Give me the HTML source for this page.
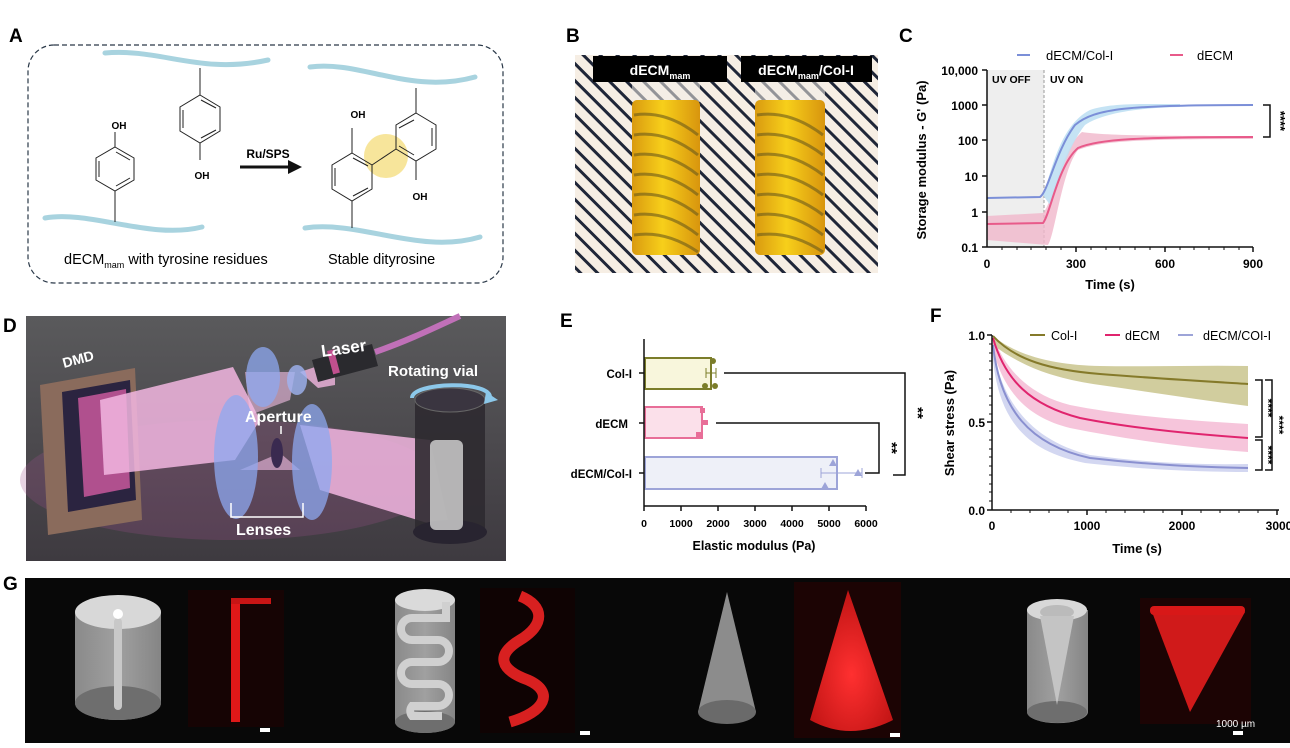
<!DOCTYPE html>
<html><head><meta charset="utf-8"><style>
html,body{margin:0;padding:0;background:#fff;width:1290px;height:748px;overflow:hidden}
svg{display:block;font-family:"Liberation Sans",Arial,sans-serif}
</style></head><body>
<svg width="1290" height="748" viewBox="0 0 1290 748" xmlns="http://www.w3.org/2000/svg">
<defs>
<pattern id="stripes" width="12" height="12" patternUnits="userSpaceOnUse" patternTransform="rotate(-45)">
<rect width="12" height="12" fill="#f6eee4"/><rect width="3" height="12" fill="#1f2638"/>
</pattern>
<linearGradient id="yel" x1="0" x2="1"><stop offset="0" stop-color="#d99a10"/><stop offset="0.45" stop-color="#f7cf1a"/><stop offset="1" stop-color="#d8950e"/></linearGradient>
<linearGradient id="dbg" x1="0" y1="0" x2="0" y2="1"><stop offset="0" stop-color="#5a5a5c"/><stop offset="1" stop-color="#3e3a40"/></linearGradient>
<linearGradient id="cylg" x1="0" x2="1"><stop offset="0" stop-color="#8a8a8a"/><stop offset="0.5" stop-color="#a0a0a0"/><stop offset="1" stop-color="#858585"/></linearGradient>
<radialGradient id="redg" cx="0.5" cy="0.6" r="0.6"><stop offset="0" stop-color="#ff3030"/><stop offset="1" stop-color="#c01414"/></radialGradient>
</defs>

<!-- ===== A ===== -->
<text x="9" y="42" font-size="19" font-weight="bold">A</text>
<rect x="28" y="45" width="475" height="238" rx="26" fill="none" stroke="#2a3848" stroke-width="1.2" stroke-dasharray="5,3"/>
<g fill="none" stroke="#a8d3df" stroke-width="5" stroke-linecap="round">
<path d="M105,53 C160,48 200,75 268,60"/>
<path d="M45,218 C90,210 150,240 202,227"/>
<path d="M310,67 C360,60 410,95 475,77"/>
<path d="M305,228 C360,220 420,255 480,237"/>
</g>
<g fill="none" stroke="#222" stroke-width="1">
<polygon points="115,147 134,158 134,180 115,191 96,180 96,158"/>
<line x1="99" y1="161" x2="99" y2="177"/><line x1="116" y1="152" x2="130" y2="160"/><line x1="116" y1="186" x2="130" y2="178"/>
<line x1="115" y1="147" x2="115" y2="132"/><line x1="115" y1="191" x2="115" y2="222"/>
<polygon points="200,95 220,107 220,131 200,143 180,131 180,107"/>
<line x1="183" y1="110" x2="183" y2="128"/><line x1="201" y1="100" x2="216" y2="108"/><line x1="201" y1="138" x2="216" y2="130"/>
<line x1="200" y1="95" x2="200" y2="68"/><line x1="200" y1="143" x2="200" y2="160"/>
</g>
<text x="119" y="129" font-size="10" font-weight="bold" text-anchor="middle">OH</text>
<text x="202" y="179" font-size="10" font-weight="bold" text-anchor="middle">OH</text>
<path d="M240,167 L290,167" stroke="#111" stroke-width="3"/><polygon points="288,160 302,167 288,174" fill="#111"/>
<text x="268" y="158" font-size="12" font-weight="bold" text-anchor="middle">Ru/SPS</text>
<circle cx="386" cy="156" r="22" fill="#f6e08a" opacity="0.85"/>
<g fill="none" stroke="#222" stroke-width="1">
<polygon points="352,153 372,165 372,189 352,201 332,189 332,165"/>
<line x1="335" y1="168" x2="335" y2="186"/><line x1="353" y1="158" x2="368" y2="166"/><line x1="353" y1="196" x2="368" y2="188"/>
<polygon points="416,113 436,125 436,149 416,161 396,149 396,125"/>
<line x1="432" y1="128" x2="432" y2="146"/><line x1="399" y1="128" x2="414" y2="120"/><line x1="399" y1="146" x2="414" y2="155"/>
<line x1="372" y1="165" x2="396" y2="149"/>
<line x1="352" y1="153" x2="352" y2="128"/><line x1="352" y1="201" x2="352" y2="228"/>
<line x1="416" y1="113" x2="416" y2="88"/><line x1="416" y1="161" x2="416" y2="180"/>
</g>
<text x="358" y="118" font-size="10" font-weight="bold" text-anchor="middle">OH</text>
<text x="420" y="200" font-size="10" font-weight="bold" text-anchor="middle">OH</text>
<text x="64" y="264" font-size="14.5">dECM<tspan font-size="9" dy="4">mam</tspan><tspan dy="-4"> with tyrosine residues</tspan></text>
<text x="328" y="264" font-size="14.5">Stable dityrosine</text>

<!-- ===== B ===== -->
<text x="566" y="42" font-size="19" font-weight="bold">B</text>
<rect x="575" y="55" width="303" height="218" fill="url(#stripes)"/>
<g>
<rect x="632" y="72" width="68" height="30" fill="#f2efe8" opacity="0.55"/>
<rect x="632" y="100" width="68" height="155" rx="5" fill="url(#yel)"/>
<rect x="755" y="72" width="70" height="30" fill="#f2efe8" opacity="0.55"/>
<rect x="755" y="100" width="70" height="155" rx="5" fill="url(#yel)"/>
<g stroke="#6b5a1a" stroke-width="3" fill="none" opacity="0.6">
<path d="M634,115 Q666,110 698,135 M634,135 Q666,130 698,155 M634,155 Q666,150 698,175 M634,175 Q666,170 698,195 M634,195 Q666,190 698,215 M634,215 Q666,210 698,235 M634,235 Q666,230 698,252"/>
<path d="M757,115 Q790,110 823,135 M757,135 Q790,130 823,155 M757,155 Q790,150 823,175 M757,175 Q790,170 823,195 M757,195 Q790,190 823,215 M757,215 Q790,210 823,235 M757,235 Q790,230 823,252"/>
</g>
</g>
<rect x="593" y="56" width="134" height="26" fill="#000"/>
<text x="660" y="75" font-size="14" font-weight="bold" fill="#fff" text-anchor="middle">dECM<tspan font-size="9" dy="4">mam</tspan></text>
<rect x="741" y="56" width="131" height="26" fill="#000"/>
<text x="806" y="75" font-size="14" font-weight="bold" fill="#fff" text-anchor="middle">dECM<tspan font-size="9" dy="4">mam</tspan><tspan dy="-4">/Col-I</tspan></text>

<!-- ===== C ===== -->
<text x="899" y="42" font-size="19" font-weight="bold">C</text>
<line x1="1017" y1="55" x2="1030" y2="55" stroke="#7b8fd8" stroke-width="2"/>
<text x="1046" y="60" font-size="13">dECM/Col-I</text>
<line x1="1170" y1="55" x2="1183" y2="55" stroke="#e85a8a" stroke-width="2"/>
<text x="1197" y="60" font-size="13">dECM</text>
<rect x="987" y="70" width="57" height="177" fill="#eeeeee"/>
<line x1="1044" y1="70" x2="1044" y2="247" stroke="#999" stroke-dasharray="3,2"/>
<text x="992" y="83" font-size="10.5" font-weight="bold">UV OFF</text>
<text x="1050" y="83" font-size="10.5" font-weight="bold">UV ON</text>
<path d="M987,216 L1043,213 C1052,205 1062,148 1082,132 C1100,135 1140,136 1253,136 L1253,139 C1140,139 1100,141 1078,150 C1062,170 1055,235 1048,245 L987,240 Z" fill="#f0b7cb" opacity="0.8"/>
<path d="M1043,195 C1052,170 1060,125 1090,110 C1110,103 1140,104 1180,104 L1180,107 C1130,108 1100,115 1085,125 C1065,150 1055,195 1050,205 Z" fill="#bfe0f3" opacity="0.9"/>
<path d="M987,198 L1040,197 C1048,192 1056,150 1075,125 C1095,108 1130,105 1253,105" fill="none" stroke="#7b8fd8" stroke-width="2"/>
<path d="M987,224 L1043,223 C1050,215 1058,165 1078,148 C1098,139 1140,137 1253,137" fill="none" stroke="#e85a8a" stroke-width="2"/>
<g stroke="#111" stroke-width="1.5" fill="none">
<line x1="987" y1="70" x2="987" y2="247"/><line x1="987" y1="247" x2="1253" y2="247"/>
<path d="M982,70H987M982,105H987M982,140H987M982,176H987M982,212H987M982,247H987"/>
<path d="M1076,247v5M1165,247v5M1253,247v5"/>
<path d="M1263,105h7v32h-7"/>
</g>
<g stroke="#111" stroke-width="1"><path d="M1002,247v3M1017,247v3M1031,247v3M1046,247v3M1061,247v3M1091,247v3M1106,247v3M1120,247v3M1135,247v3M1150,247v3M1180,247v3M1194,247v3M1209,247v3M1224,247v3M1239,247v3"/></g>
<g font-size="12" font-weight="bold" text-anchor="end">
<text x="978" y="75">10,000</text><text x="978" y="110">1000</text><text x="978" y="145">100</text><text x="978" y="181">10</text><text x="978" y="217">1</text><text x="978" y="252">0.1</text>
</g>
<g font-size="12" font-weight="bold" text-anchor="middle"><text x="987" y="268">0</text><text x="1076" y="268">300</text><text x="1165" y="268">600</text><text x="1253" y="268">900</text></g>
<text x="1110" y="289" font-size="13" font-weight="bold" text-anchor="middle">Time (s)</text>
<text transform="translate(926,160) rotate(-90)" font-size="13" font-weight="bold" text-anchor="middle">Storage modulus - G' (Pa)</text>
<text transform="translate(1276,121) rotate(90)" font-size="13" font-weight="bold" text-anchor="middle">****</text>

<!-- ===== D ===== -->
<text x="3" y="332" font-size="19" font-weight="bold">D</text>
<rect x="26" y="316" width="480" height="245" fill="url(#dbg)"/>
<ellipse cx="230" cy="480" rx="210" ry="60" fill="#a0508a" opacity="0.25"/>
<polygon points="40,385 135,368 142,520 48,535" fill="#8a6b5c"/>
<polygon points="62,392 130,380 136,500 68,512" fill="#2b2440"/>
<polygon points="78,398 126,389 130,488 84,497" fill="#b0508e"/>
<polygon points="100,400 233,367 260,420 235,460 104,475" fill="#f2b6e0" opacity="0.85"/>
<polygon points="245,372 295,372 290,400 250,415" fill="#f4c0e6" opacity="0.6"/>
<polygon points="300,372 318,366 335,362 335,385 318,388" fill="#f2b6e0" opacity="0.8"/>
<polygon points="300,425 430,440 450,530 320,490" fill="#f2b6e0" opacity="0.85"/>
<polygon points="240,470 280,453 300,470" fill="#f4c0e6" opacity="0.6"/>
<ellipse cx="263" cy="377" rx="17" ry="30" fill="#8ea8f0" opacity="0.75"/>
<ellipse cx="297" cy="380" rx="10" ry="15" fill="#9fb4f2" opacity="0.8"/>
<ellipse cx="236" cy="457" rx="22" ry="62" fill="#8ea8f0" opacity="0.75"/>
<ellipse cx="312" cy="462" rx="20" ry="58" fill="#8ea8f0" opacity="0.75"/>
<ellipse cx="277" cy="453" rx="6" ry="15" fill="#3a2a50"/>
<polygon points="312,360 372,344 378,366 318,382" fill="#2a2a2e"/>
<rect x="330" y="350" width="7" height="24" fill="#c0508e" transform="rotate(-15 333 362)"/>
<path d="M375,352 C410,340 440,325 460,316" stroke="#c070b8" stroke-width="6" fill="none"/>
<rect x="415" y="395" width="70" height="140" rx="8" fill="#2d2a30" opacity="0.9"/>
<ellipse cx="450" cy="400" rx="35" ry="12" fill="#3a3540" stroke="#666"/>
<ellipse cx="450" cy="532" rx="37" ry="12" fill="#282430"/>
<rect x="430" y="440" width="33" height="90" rx="6" fill="#ccc" opacity="0.85"/>
<path d="M412,398 C412,382 492,380 490,398" stroke="#8cc8ea" stroke-width="4" fill="none"/>
<polygon points="486,392 498,400 484,404" fill="#8cc8ea"/>
<g fill="#fff" font-weight="bold">
<text x="64" y="368" font-size="14" transform="rotate(-15 64 368)">DMD</text>
<text x="322" y="357" font-size="17" transform="rotate(-8 322 357)">Laser</text>
<text x="388" y="376" font-size="15">Rotating vial</text>
<text x="245" y="422" font-size="16">Aperture</text>
<text x="236" y="535" font-size="16">Lenses</text>
</g>
<path d="M231,503 v14 h72 v-14" stroke="#fff" stroke-width="1.5" fill="none"/>
<line x1="281" y1="426" x2="281" y2="434" stroke="#fff" stroke-width="1.5"/>

<!-- ===== E ===== -->
<text x="560" y="327" font-size="19" font-weight="bold">E</text>
<rect x="645" y="358" width="66" height="31" fill="#f8f6dc" stroke="#7b7d2a" stroke-width="2"/>
<rect x="645" y="407" width="57" height="31" fill="#fbe0ea" stroke="#e86e98" stroke-width="2"/>
<rect x="645" y="457" width="192" height="32" fill="#eef0f8" stroke="#9da4d8" stroke-width="2"/>
<g fill="#7b7d2a"><circle cx="713" cy="361" r="3"/><circle cx="705" cy="386" r="3"/><circle cx="715" cy="386" r="3"/></g>
<path d="M706,373H716M706,368v10M716,368v10" stroke="#7b7d2a"/>
<g fill="#e86e98"><rect x="700" y="408" width="5" height="5"/><rect x="703" y="420" width="5" height="5"/><rect x="696" y="432" width="5" height="5"/></g>
<g fill="#9da4d8"><polygon points="833,459 837,466 829,466"/><polygon points="858,469 862,476 854,476"/><polygon points="825,482 829,489 821,489"/></g>
<path d="M821,473H862M821,468v10M862,468v10" stroke="#9da4d8"/>
<g stroke="#111" stroke-width="1.5" fill="none">
<line x1="644" y1="339" x2="644" y2="506"/><line x1="644" y1="506" x2="866" y2="506"/>
<path d="M639,373h5M639,423h5M639,473h5"/>
<path d="M644,506v5M681,506v5M718,506v5M755,506v5M792,506v5M829,506v5M866,506v5"/>
<path d="M724,373H905V475H893"/>
<path d="M716,423H879V473H865"/>
</g>
<g font-size="11.5" font-weight="bold" text-anchor="end"><text x="632" y="378">Col-I</text><text x="628" y="428">dECM</text><text x="632" y="478">dECM/Col-I</text></g>
<g font-size="10.5" font-weight="bold" text-anchor="middle"><text x="644" y="527">0</text><text x="681" y="527">1000</text><text x="718" y="527">2000</text><text x="755" y="527">3000</text><text x="792" y="527">4000</text><text x="829" y="527">5000</text><text x="866" y="527">6000</text></g>
<text x="754" y="550" font-size="12.5" font-weight="bold" text-anchor="middle">Elastic modulus (Pa)</text>
<text transform="translate(913,413) rotate(90)" font-size="15" font-weight="bold" text-anchor="middle">**</text>
<text transform="translate(887,448) rotate(90)" font-size="15" font-weight="bold" text-anchor="middle">**</text>

<!-- ===== F ===== -->
<text x="930" y="322" font-size="19" font-weight="bold">F</text>
<line x1="1030" y1="335" x2="1045" y2="335" stroke="#857a2a" stroke-width="2"/><text x="1051" y="340" font-size="12.5">Col-I</text>
<line x1="1105" y1="335" x2="1120" y2="335" stroke="#e0246e" stroke-width="2"/><text x="1125" y="340" font-size="12.5">dECM</text>
<line x1="1178" y1="335" x2="1193" y2="335" stroke="#9da4d8" stroke-width="2"/><text x="1203" y="340" font-size="12.5">dECM/COI-I</text>
<path d="M993,336 C1020,358 1060,365 1100,366 C1150,367 1200,365 1248,366 L1248,406 C1200,400 1150,392 1100,385 C1050,378 1020,365 993,345 Z" fill="#b3ab5e" opacity="0.6"/>
<path d="M993,336 C1005,370 1030,395 1070,405 C1120,415 1180,420 1248,424 L1248,452 C1190,448 1130,440 1070,428 C1030,418 1005,395 993,350 Z" fill="#f3b2cf" opacity="0.75"/>
<path d="M993,345 C1000,400 1030,440 1090,455 C1150,463 1200,465 1248,464 L1248,472 C1200,472 1150,470 1085,463 C1030,452 1000,425 993,360 Z" fill="#c8cdee" opacity="0.8"/>
<path d="M993,336 C1015,360 1050,370 1100,374 C1150,378 1200,381 1248,384" fill="none" stroke="#857a2a" stroke-width="2"/>
<path d="M993,338 C1005,380 1030,405 1080,418 C1130,428 1190,434 1248,438" fill="none" stroke="#e0246e" stroke-width="2"/>
<path d="M993,345 C1000,410 1030,445 1090,458 C1150,465 1200,467 1248,468" fill="none" stroke="#8a90d0" stroke-width="2"/>
<g stroke="#111" stroke-width="1.5" fill="none">
<line x1="992" y1="335" x2="992" y2="510"/><line x1="992" y1="510" x2="1279" y2="510"/>
<path d="M987,335h5M987,422h5M987,510h5M1087,510v5M1182,510v5M1277,510v5"/>
<path d="M1255,380h7v57h-7M1255,440h7v30h-7M1265,380h7v90h-7"/>
</g>
<g stroke="#111" stroke-width="1"><path d="M992,344h-3M992,353h-3M992,361h-3M992,370h-3M992,379h-3M992,388h-3M992,396h-3M992,405h-3M992,414h-3M992,431h-3M992,440h-3M992,449h-3M992,457h-3M992,466h-3M992,475h-3M992,484h-3M992,492h-3M992,501h-3"/>
<path d="M1011,510v3M1030,510v3M1049,510v3M1068,510v3M1106,510v3M1125,510v3M1144,510v3M1163,510v3M1201,510v3M1220,510v3M1239,510v3M1258,510v3"/></g>
<g font-size="12" font-weight="bold" text-anchor="end"><text x="985" y="340">1.0</text><text x="985" y="427">0.5</text><text x="985" y="515">0.0</text></g>
<g font-size="12" font-weight="bold" text-anchor="middle"><text x="992" y="530">0</text><text x="1087" y="530">1000</text><text x="1182" y="530">2000</text><text x="1279" y="530">3000</text></g>
<text x="1137" y="553" font-size="13" font-weight="bold" text-anchor="middle">Time (s)</text>
<text transform="translate(954,423) rotate(-90)" font-size="13" font-weight="bold" text-anchor="middle">Shear stress (Pa)</text>
<text transform="translate(1264,408) rotate(90)" font-size="12" font-weight="bold" text-anchor="middle">****</text>
<text transform="translate(1264,455) rotate(90)" font-size="12" font-weight="bold" text-anchor="middle">****</text>
<text transform="translate(1275,425) rotate(90)" font-size="12" font-weight="bold" text-anchor="middle">****</text>

<!-- ===== G ===== -->
<text x="3" y="590" font-size="19" font-weight="bold">G</text>
<rect x="25" y="578" width="1265" height="165" fill="#080808"/>
<path d="M75,612 V703 A43,17 0 0 0 161,703 V612 Z" fill="url(#cylg)"/>
<ellipse cx="118" cy="703" rx="43" ry="17" fill="#6e6e6e"/>
<ellipse cx="118" cy="612" rx="43" ry="17" fill="#d8d8d8"/>
<rect x="114" y="618" width="8" height="92" rx="4" fill="#c8c8c8"/>
<circle cx="118" cy="614" r="5" fill="#fff"/>
<rect x="188" y="590" width="96" height="137" fill="#160404"/>
<rect x="231" y="600" width="9" height="122" fill="#e01818"/>
<rect x="231" y="598" width="40" height="6" fill="#c81515"/>
<rect x="260" y="728" width="10" height="4" fill="#fff"/>
<path d="M395,600 V722 A30,11 0 0 0 455,722 V600 Z" fill="url(#cylg)"/>
<ellipse cx="425" cy="600" rx="30" ry="11" fill="#dadada"/>
<ellipse cx="425" cy="722" rx="30" ry="11" fill="#6e6e6e"/>
<path d="M446,602 V618 H412 A11,11 0 0 0 412,640 H438 A11,11 0 0 1 438,662 H412 A11,11 0 0 0 412,684 H438 A11,11 0 0 1 438,706 H412 A8,8 0 0 0 412,716 H442" fill="none" stroke="#d0d0d0" stroke-width="8"/>
<rect x="480" y="588" width="95" height="145" fill="#0f0303"/>
<path d="M520,596 C545,606 545,625 520,640 C495,655 500,670 528,680 C555,692 545,712 510,722" fill="none" stroke="#e42222" stroke-width="11" opacity="0.95"/>
<rect x="580" y="731" width="10" height="4" fill="#fff"/>
<polygon points="727,592 698,712 756,712" fill="#8c8c8c"/>
<ellipse cx="727" cy="712" rx="29" ry="12" fill="#6a6a6a"/>
<rect x="794" y="582" width="107" height="156" fill="#1c0404"/>
<path d="M848,590 L810,720 Q850,742 893,720 Z" fill="url(#redg)"/>
<rect x="890" y="733" width="10" height="4" fill="#fff"/>
<path d="M1027,610 V712 A30,11 0 0 0 1088,712 V610 Z" fill="url(#cylg)"/>
<ellipse cx="1057" cy="712" rx="30" ry="11" fill="#6e6e6e"/>
<ellipse cx="1057" cy="610" rx="30" ry="11" fill="#d8d8d8"/>
<ellipse cx="1057" cy="612" rx="17" ry="7" fill="#bbb"/>
<polygon points="1040,616 1074,616 1057,705" fill="#c4c4c4"/>
<rect x="1140" y="598" width="111" height="126" fill="#1c0404"/>
<path d="M1152,612 Q1200,605 1245,612 L1190,712 Z" fill="#e01c1c" opacity="0.92"/>
<rect x="1150" y="606" width="95" height="9" rx="4" fill="#d81818"/>
<text x="1216" y="727" font-size="10" fill="#fff">1000 µm</text>
<rect x="1233" y="731" width="10" height="4" fill="#fff"/>
</svg>
</body></html>
